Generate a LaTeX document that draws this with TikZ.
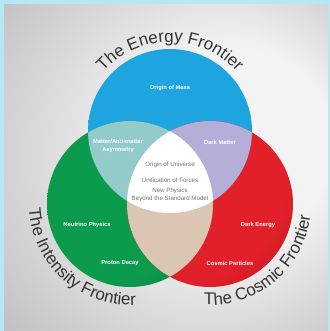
\documentclass[tikz,border=0pt]{standalone}
\usepackage{fontspec}
\setmainfont{Liberation Sans}
\usetikzlibrary{decorations.text}

\definecolor{framecyan}{HTML}{B5E7F5}
\definecolor{panelhi}{HTML}{F3F3F4}
\definecolor{panello}{HTML}{A9A9AB}
\definecolor{blueA}{HTML}{1EA4DE}
\definecolor{blueB}{HTML}{0A6895}
\definecolor{greenA}{HTML}{0C9A4D}
\definecolor{greenB}{HTML}{005A2B}
\definecolor{redA}{HTML}{E2202A}
\definecolor{redB}{HTML}{860A14}
\definecolor{tealmix}{HTML}{93CBCB}
\definecolor{lilacmix}{HTML}{B5AED9}
\definecolor{tanmix}{HTML}{DBC6B3}
\definecolor{coregray}{HTML}{707070}
\definecolor{titlegray}{HTML}{333333}

\pgfdeclareradialshading{panelshade}{\pgfpoint{15bp}{5bp}}{color(0bp)=(panelhi); color(15bp)=(panelhi); color(50bp)=(panello)}
\pgfdeclareradialshading{blueshade}{\pgfpoint{-15bp}{10bp}}{color(0bp)=(blueA); color(30bp)=(blueA); color(55bp)=(blueB)}
\pgfdeclareradialshading{greenshade}{\pgfpoint{-12bp}{15bp}}{color(0bp)=(greenA); color(30bp)=(greenA); color(58bp)=(greenB)}
\pgfdeclareradialshading{redshade}{\pgfpoint{-15bp}{15bp}}{color(0bp)=(redA); color(30bp)=(redA); color(58bp)=(redB)}

\newcommand\titlefont{\fontsize{17}{17}\selectfont}

\begin{document}
\begin{tikzpicture}[x=1bp, y=1bp,
  region/.style={text=white, font=\bfseries\fontsize{5.8}{8}\selectfont, align=center},
  core/.style={text=coregray, font=\fontsize{6.2}{8}\selectfont, align=center},
  frontier/.style={decorate, decoration={text along path, text align=center, text color=titlegray}}]

  \useasboundingbox (0,0) rectangle (330,331);
  \fill[framecyan] (0,0) rectangle (330,331);
  \shade[shading=panelshade] (4,0) rectangle (328,326);

  \coordinate (energy) at (170,200);
  \coordinate (intensity) at (130,127);
  \coordinate (cosmic) at (210,127);

  \shade[shading=blueshade] (energy) circle[radius=82];
  \shade[shading=greenshade] (intensity) circle[radius=83];
  \shade[shading=redshade] (cosmic) circle[radius=83];

  % overlaps
  \begin{scope}
	\clip (energy) circle[radius=82];
	\fill[tealmix] (intensity) circle[radius=83];
	\fill[lilacmix] (cosmic) circle[radius=83];
  \end{scope}
  \begin{scope}
	\clip (intensity) circle[radius=83];
	\fill[tanmix] (cosmic) circle[radius=83];
	\clip (cosmic) circle[radius=83];
	\fill[white] (energy) circle[radius=82];
  \end{scope}

  \node[region] (mass) at (170,243) {Origin of Mass};
  \node[region] (asym) at (118,185) {Matter/Anti-matter\\Asymmetry};
  \node[region] (dmatter) at (220,189) {Dark Matter};
  \node[region] (neutrino) at (87,106) {Neutrino Physics};
  \node[region] (proton) at (120,68) {Proton Decay};
  \node[region] (denergy) at (258,106) {Dark Energy};
  \node[region] (particles) at (230,68) {Cosmic Particles};

  \node[core] (universe) at (170,166) {Origin of Universe};
  \node[core] (forces) at (170,151) {Unification of Forces};
  \node[core] (newphys) at (170,136) {New Physics\\Beyond the Standard Model};

  \path[frontier, decoration={text={|\titlefont|The Energy Frontier}}]
	([shift={(150:89)}]energy) arc[start angle=150, end angle=30, radius=89];
  \path[frontier, decoration={text={|\titlefont|The Intensity Frontier}}]
	([shift={(170:101)}]intensity) arc[start angle=170, end angle=286, radius=101];
  \path[frontier, decoration={text={|\titlefont|The Cosmic Frontier}}]
	([shift={(252:101)}]cosmic) arc[start angle=252, end angle=368, radius=101];
\end{tikzpicture}
\end{document}
